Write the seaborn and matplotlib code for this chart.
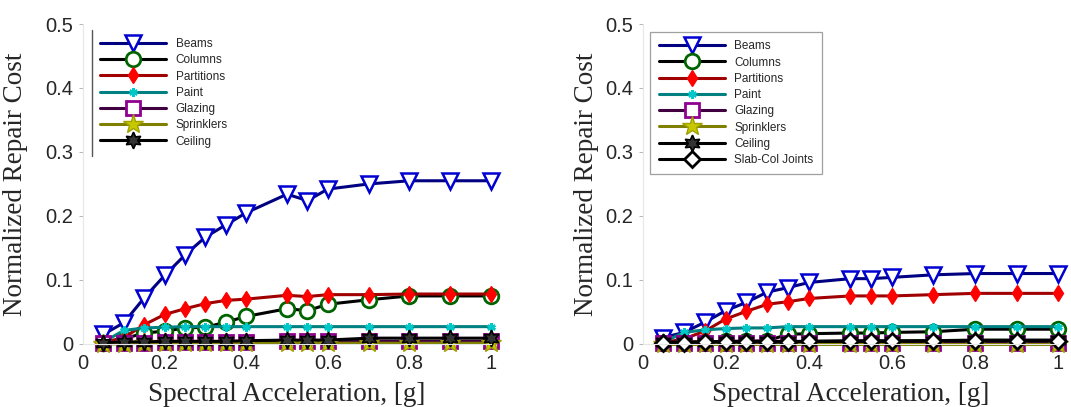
import numpy as np
import pandas as pd
import matplotlib
matplotlib.use("Agg")
import matplotlib.pyplot as plt
from matplotlib.ticker import FormatStrFormatter
import seaborn as sns

sa = [0.05, 0.1, 0.15, 0.2, 0.25, 0.3, 0.35, 0.4, 0.5, 0.55, 0.6, 0.7, 0.8, 0.9, 1.0]

# Left panel
left_beams = [0.015, 0.033, 0.072, 0.107, 0.139, 0.167, 0.186, 0.205, 0.234, 0.224, 0.242, 0.250, 0.255, 0.255, 0.255]
left_columns = [0.002, 0.008, 0.017, 0.020, 0.025, 0.026, 0.034, 0.043, 0.055, 0.052, 0.062, 0.069, 0.075, 0.075, 0.075]
left_partitions = [0.002, 0.010, 0.030, 0.046, 0.055, 0.063, 0.068, 0.070, 0.076, 0.074, 0.077, 0.077, 0.078, 0.078, 0.078]
left_paint = [0.003, 0.021, 0.025, 0.026, 0.027, 0.027, 0.027, 0.027, 0.027, 0.027, 0.027, 0.027, 0.027, 0.027, 0.027]
left_glazing = [0.001, 0.002, 0.002, 0.003, 0.003, 0.003, 0.003, 0.003, 0.004, 0.004, 0.004, 0.004, 0.004, 0.004, 0.004]
left_sprinklers = [0.000, 0.000, 0.001, 0.001, 0.001, 0.001, 0.001, 0.001, 0.001, 0.001, 0.001, 0.001, 0.001, 0.001, 0.001]
left_ceiling = [0.002, 0.003, 0.003, 0.004, 0.004, 0.004, 0.004, 0.005, 0.006, 0.006, 0.006, 0.009, 0.009, 0.009, 0.009]

# Right panel
right_beams = [0.010, 0.018, 0.034, 0.052, 0.065, 0.081, 0.088, 0.096, 0.102, 0.102, 0.104, 0.108, 0.110, 0.110, 0.110]
right_columns = [0.002, 0.003, 0.003, 0.004, 0.004, 0.005, 0.015, 0.016, 0.017, 0.017, 0.018, 0.019, 0.023, 0.023, 0.023]
right_partitions = [0.002, 0.008, 0.020, 0.039, 0.051, 0.062, 0.066, 0.071, 0.075, 0.075, 0.075, 0.077, 0.079, 0.079, 0.079]
right_paint = [0.003, 0.018, 0.022, 0.024, 0.025, 0.025, 0.027, 0.027, 0.027, 0.027, 0.027, 0.027, 0.027, 0.027, 0.027]
right_glazing = [0.001, 0.001, 0.001, 0.001, 0.001, 0.001, 0.001, 0.001, 0.001, 0.001, 0.001, 0.001, 0.001, 0.001, 0.001]
right_sprinklers = [0.000, 0.000, 0.000, 0.000, 0.000, 0.000, 0.000, 0.000, 0.000, 0.000, 0.000, 0.000, 0.000, 0.000, 0.000]
right_ceiling = [0.003, 0.003, 0.003, 0.004, 0.004, 0.004, 0.004, 0.004, 0.005, 0.005, 0.005, 0.005, 0.006, 0.006, 0.006]
right_slabcol = [0.002, 0.002, 0.003, 0.003, 0.003, 0.003, 0.003, 0.004, 0.004, 0.004, 0.004, 0.005, 0.005, 0.005, 0.005]

left_names = ["Beams", "Columns", "Partitions", "Paint", "Glazing", "Sprinklers", "Ceiling"]
right_names = left_names + ["Slab-Col Joints"]

styles = {
    "Beams": dict(color="#000080", marker="v", mec="#0000d0", mfc="white", ms=12, mew=1.8),
    "Columns": dict(color="black", marker="o", mec="#006400", mfc="white", ms=10.5, mew=2.0),
    "Partitions": dict(color="#a00000", marker="d", mec="#ff0000", mfc="#ff0000", ms=8, mew=1.0),
    "Paint": dict(color="#008080", marker=(6, 2, 0), mec="#00c8c8", mfc="#00c8c8", ms=6, mew=1.8),
    "Glazing": dict(color="#400040", marker="s", mec="#900090", mfc="white", ms=10, mew=2.0),
    "Sprinklers": dict(color="#808000", marker="*", mec="#a0a000", mfc="#c8c800", ms=15, mew=1.0),
    "Ceiling": dict(color="black", marker=(6, 1, 0), mec="black", mfc="#333333", ms=12, mew=1.2),
    "Slab-Col Joints": dict(color="black", marker="D", mec="black", mfc="white", ms=8, mew=2.0),
}

def long_df(names, series):
    rows = []
    for n, vals in zip(names, series):
        for x, y in zip(sa, vals):
            rows.append((n, x, y))
    return pd.DataFrame(rows, columns=["component", "sa", "cost"])

df_left = long_df(left_names, [left_beams, left_columns, left_partitions, left_paint,
                               left_glazing, left_sprinklers, left_ceiling])
df_right = long_df(right_names, [right_beams, right_columns, right_partitions, right_paint,
                                 right_glazing, right_sprinklers, right_ceiling, right_slabcol])

sns.set_style("white")
plt.rcParams["font.family"] = ["Liberation Sans", "DejaVu Sans"]

fig = plt.figure(figsize=(10.71, 4.07), dpi=100)
ax1 = fig.add_axes([0.0775, 0.155, 0.381, 0.786])
ax2 = fig.add_axes([0.600, 0.155, 0.388, 0.786])

def draw(ax, df, names, legend_anchor, framed):
    for n in names:
        sub = df[df["component"] == n]
        st = styles[n]
        sns.lineplot(data=sub, x="sa", y="cost", ax=ax, label=n, color=st["color"],
                     marker=st["marker"], markeredgecolor=st["mec"], markerfacecolor=st["mfc"],
                     markersize=st["ms"], markeredgewidth=st["mew"], linewidth=2.2,
                     clip_on=False, errorbar=None)
    ax.set_xlim(0, 1)
    ax.set_ylim(0, 0.5)
    ax.set_xticks([0, 0.2, 0.4, 0.6, 0.8, 1.0])
    ax.set_yticks([0, 0.1, 0.2, 0.3, 0.4, 0.5])
    ax.xaxis.set_major_formatter(FormatStrFormatter("%g"))
    ax.yaxis.set_major_formatter(FormatStrFormatter("%g"))
    ax.tick_params(axis="both", labelsize=14.5, length=3, width=0.6, color="#aaaaaa",
                   left=True, bottom=False, pad=4)
    for s in ["top", "right"]:
        ax.spines[s].set_visible(False)
    for s in ["left", "bottom"]:
        ax.spines[s].set_color("#e6e6e6")
        ax.spines[s].set_linewidth(0.8)
    ax.set_xlabel("Spectral Acceleration, [g]", fontfamily="Liberation Serif", fontsize=19.5, labelpad=7)
    ax.set_ylabel("Normalized Repair Cost", fontfamily="Liberation Serif", fontsize=19.5)
    leg = ax.legend(loc="upper left", bbox_to_anchor=legend_anchor, borderaxespad=0,
                    fontsize=8.5, handlelength=5.6, handletextpad=0.8, labelspacing=0.36,
                    borderpad=0.7, frameon=True, fancybox=False)
    frame = leg.get_frame()
    frame.set_linewidth(0.9)
    if framed:
        frame.set_edgecolor("#888888")
    else:
        frame.set_edgecolor("none")
    return leg

leg1 = draw(ax1, df_left, left_names, (0.022, 0.982), framed=False)
leg2 = draw(ax2, df_right, right_names, (0.019, 0.975), framed=True)

ax1.yaxis.set_label_coords(-0.135, 0.5)
ax2.yaxis.set_label_coords(-0.104, 0.5)

# Left legend shows only its left border line
fig.canvas.draw()
bb = leg1.get_window_extent().transformed(ax1.transAxes.inverted())
ax1.plot([bb.x0, bb.x0], [bb.y0, bb.y1], transform=ax1.transAxes, color="#555555",
         linewidth=1.0, clip_on=False, zorder=10)

fig.savefig("out.png", dpi=100)
